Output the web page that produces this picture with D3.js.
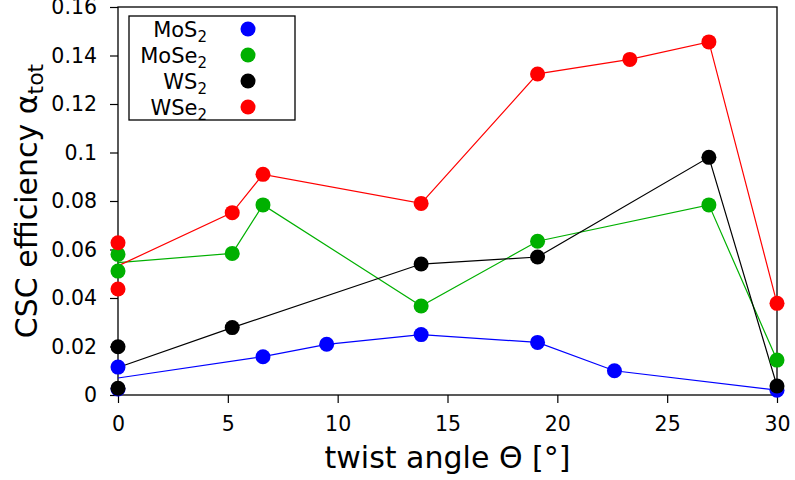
<!DOCTYPE html>
<html>
<head>
<meta charset="utf-8">
<script src="https://cdn.jsdelivr.net/npm/d3@7"></script>
<style>
  html, body { margin: 0; padding: 0; background: #fff; }
  svg { display: block; }
  text { font-family: "DejaVu Sans", sans-serif; fill: #000; }
</style>
</head>
<body>
<svg id="chart" width="795" height="480"></svg>
<script>
// Twist angle (degrees) and CSC efficiency for each material
const mos2Angle  = [0, 0, 6.6, 9.5, 13.8, 19.1, 22.6, 30];
const mos2Value  = [0.0115, 0.0025, 0.0158, 0.0209, 0.0249, 0.0217, 0.0100, 0.0020];

const mose2Angle = [0, 0, 5.2, 6.6, 13.8, 19.1, 26.9, 30];
const mose2Value = [0.0580, 0.0511, 0.0584, 0.0784, 0.0367, 0.0634, 0.0784, 0.0144];

const ws2Angle   = [0, 0, 5.2, 13.8, 19.1, 26.9, 30];
const ws2Value   = [0.0199, 0.0028, 0.0278, 0.0540, 0.0569, 0.0980, 0.0037];

const wse2Angle  = [0, 0, 5.2, 6.6, 13.8, 19.1, 23.3, 26.9, 30];
const wse2Value  = [0.0628, 0.0437, 0.0752, 0.0910, 0.0790, 0.1324, 0.1384, 0.1456, 0.0378];

const seriesNames  = ["MoS", "MoSe", "WS", "WSe"];
const seriesColors = ["#0000ff", "#00b000", "#000000", "#ff0000"];

const xTicks      = [0, 5, 10, 15, 20, 25, 30];
const yTicks      = [0, 0.02, 0.04, 0.06, 0.08, 0.1, 0.12, 0.14, 0.16];
const yTickLabels = ["0", "0.02", "0.04", "0.06", "0.08", "0.1", "0.12", "0.14", "0.16"];

const series = [
  { angle: mos2Angle,  value: mos2Value },
  { angle: mose2Angle, value: mose2Value },
  { angle: ws2Angle,   value: ws2Value },
  { angle: wse2Angle,  value: wse2Value }
].map((s, i) => {
  const pts = s.angle.map((a, k) => ({ a, v: s.value[k] }));
  // the line starts from the mean of the untwisted (0°) stackings
  const zero = pts.filter(p => p.a === 0);
  const rest = pts.filter(p => p.a !== 0);
  const line = [{ a: 0, v: d3.mean(zero, p => p.v) }].concat(rest);
  return { name: seriesNames[i], color: seriesColors[i], pts, line };
});

const svg = d3.select("#chart");
const plot = { left: 118, right: 777, top: 7, bottom: 395 };

const x = d3.scaleLinear().domain([0, 30]).range([plot.left, plot.right]);
const y = d3.scaleLinear().domain([0, 0.16]).range([plot.bottom, plot.top]);

// frame
svg.append("rect")
  .attr("x", plot.left).attr("y", plot.top)
  .attr("width", plot.right - plot.left).attr("height", plot.bottom - plot.top)
  .attr("fill", "none").attr("stroke", "#000").attr("stroke-width", 1.3);

// axes
const xAxis = svg.append("g")
  .attr("transform", `translate(0,${plot.bottom})`)
  .call(d3.axisBottom(x).tickValues(xTicks).tickSize(8).tickPadding(13).tickFormat(d3.format("d")));
const yAxis = svg.append("g")
  .attr("transform", `translate(${plot.left},0)`)
  .call(d3.axisLeft(y).tickValues(yTicks).tickSize(8).tickPadding(13)
    .tickFormat((d, i) => yTickLabels[i]));
[xAxis, yAxis].forEach(g => {
  g.select(".domain").remove();
  g.selectAll(".tick line").attr("stroke", "#000").attr("stroke-width", 1.2);
  g.selectAll(".tick text").attr("font-size", 20.5)
    .attr("font-family", "DejaVu Sans, sans-serif").attr("fill", "#000");
});

// lines
const lineGen = d3.line().x(d => x(d.a)).y(d => y(d.v));
svg.append("g").selectAll("path")
  .data(series).join("path")
  .attr("d", d => lineGen(d.line))
  .attr("fill", "none")
  .attr("stroke", d => d.color)
  .attr("stroke-width", 1.2);

// points
series.forEach(s => {
  svg.append("g").selectAll("circle")
    .data(s.pts).join("circle")
    .attr("cx", d => x(d.a)).attr("cy", d => y(d.v))
    .attr("r", 7.5).attr("fill", s.color);
});

// legend
const leg = svg.append("g");
leg.append("rect")
  .attr("x", 129).attr("y", 16).attr("width", 166).attr("height", 104)
  .attr("fill", "#fff").attr("stroke", "#000").attr("stroke-width", 1.3);
series.forEach((s, i) => {
  const cy = 29 + i * 26;
  const t = leg.append("text")
    .attr("x", 207).attr("y", cy + 7.5)
    .attr("text-anchor", "end").attr("font-size", 21);
  t.append("tspan").text(s.name);
  t.append("tspan").attr("font-size", 15).attr("dy", 5).text("2");
  leg.append("circle").attr("cx", 248).attr("cy", cy).attr("r", 7.5).attr("fill", s.color);
});

// axis titles
svg.append("text")
  .attr("x", (plot.left + plot.right) / 2).attr("y", 468)
  .attr("text-anchor", "middle").attr("font-size", 30)
  .text("twist angle \u0398 [\u00b0]");

const yt = svg.append("text")
  .attr("transform", `translate(37,${(plot.top + plot.bottom) / 2}) rotate(-90)`)
  .attr("text-anchor", "middle").attr("font-size", 30);
yt.append("tspan").text("CSC efficiency \u03b1");
yt.append("tspan").attr("font-size", 22).attr("dy", 6).text("tot");
</script>
</body>
</html>
